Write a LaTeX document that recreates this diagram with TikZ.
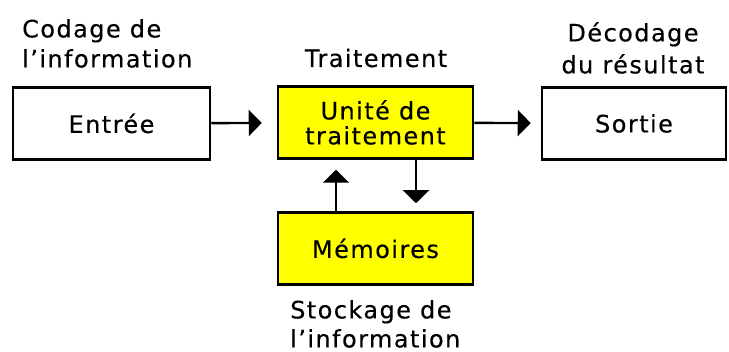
\documentclass[tikz,border=0pt]{standalone}
\usepackage{fontspec}
\setmainfont{DejaVu Sans}[LetterSpace=6, FakeBold=0.3]
\usetikzlibrary{arrows.meta}
\definecolor{boxyellow}{RGB}{255,255,0}
\tikzset{
  box/.style={draw=black, line width=2.5pt, minimum width=195pt, minimum height=72pt, inner sep=0pt, font=\fontsize{24}{25}\selectfont, align=center},
  lbl/.style={font=\fontsize{24}{30}\selectfont, inner sep=0pt},
  arr/.style={line width=2.4pt, -{Triangle[length=13pt,width=26pt]}, shorten >=10pt}
}
\begin{document}
\begin{tikzpicture}[x=1pt,y=-1pt]
\useasboundingbox (0,0) rectangle (729,352);
\node[box, minimum width=197pt] (entree) at (111.5,123.5) {Entrée};
\node[box, fill=boxyellow] (unite) at (375.5,122.5) {Unité de\\traitement};
\node[box, minimum width=184pt] (sortie) at (634,123.5) {Sortie};
\node[box, fill=boxyellow] (mem) at (375.5,248.5) {Mémoires};
\node[lbl, align=left, anchor=north west] (codage) at (22,19) {Codage de\\l’information};
\node[lbl, anchor=base] (trait) at (376,67) {Traitement};
\node[lbl, align=center, anchor=north, font=\fontsize{24}{32}\selectfont] (decod) at (633,22) {Décodage\\du résultat};
\node[lbl, align=left, anchor=north west, font=\fontsize{24}{29}\selectfont] (stock) at (290,300) {Stockage de\\l’information};
\draw[arr, shorten >=15pt] (entree) -- (unite);
\draw[arr] (unite) -- (sortie);
\draw[arr] ([xshift=-39.5pt]mem.north) -- ([xshift=-39.5pt]unite.south);
\draw[arr, shorten >=8pt] ([xshift=40.5pt]unite.south) -- ([xshift=40.5pt]mem.north);
\end{tikzpicture}
\end{document}
